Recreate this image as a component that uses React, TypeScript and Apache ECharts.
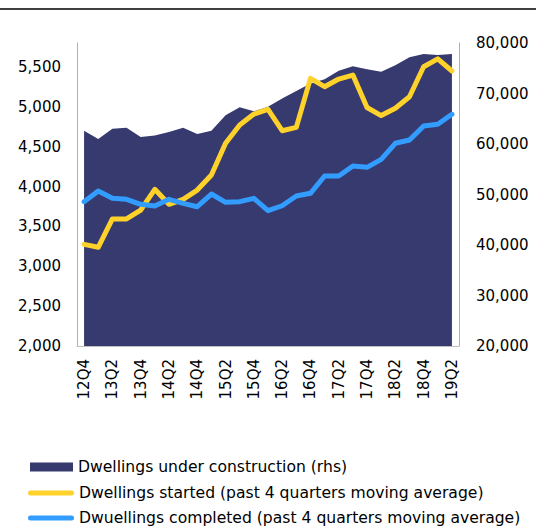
import React, { useEffect, useRef } from "react";
import * as echarts from "echarts";

const quarters = [
  "12Q4",
  "13Q1", "13Q2", "13Q3", "13Q4",
  "14Q1", "14Q2", "14Q3", "14Q4",
  "15Q1", "15Q2", "15Q3", "15Q4",
  "16Q1", "16Q2", "16Q3", "16Q4",
  "17Q1", "17Q2", "17Q3", "17Q4",
  "18Q1", "18Q2", "18Q3", "18Q4",
  "19Q1", "19Q2",
];

const underConstruction = [
  62600, 61000, 63000, 63200, 61400, 61700, 62400, 63200, 62000,
  62600, 65700, 67300, 66500, 67400, 69000, 70500, 72000, 72800,
  74500, 75400, 74800, 74300, 75600, 77200, 77800, 77600, 77800,
];

const started = [
  3275, 3238, 3593, 3593, 3705, 3965, 3777, 3840, 3956,
  4144, 4542, 4771, 4909, 4968, 4700, 4742, 5357, 5252,
  5348, 5398, 4991, 4890, 4981, 5126, 5502, 5601, 5449,
];

const completed = [
  3810, 3944, 3852, 3840, 3777, 3756, 3840, 3789, 3747,
  3906, 3802, 3810, 3852, 3697, 3759, 3881, 3915, 4132,
  4132, 4257, 4241, 4341, 4542, 4583, 4759, 4780, 4906,
];

const seriesNames = [
  "Dwellings under construction (rhs)",
  "Dwellings started (past 4 quarters moving average)",
  "Dwuellings completed (past 4 quarters moving average)",
];

const NAVY = "#363a6e";
const YELLOW = "#ffd22b";
const BLUE = "#339dff";
const FONT = "DejaVu Sans";

const fmt = (v: number) => v.toLocaleString("en-US");

const pillIcon =
  "path://M2.5,0 L43.5,0 A2.5,2.5 0 0 1 43.5,5 L2.5,5 A2.5,2.5 0 0 1 2.5,0 Z";

const legendText = { fontFamily: FONT, fontSize: 15.6, color: "#000", lineHeight: 16 };

export default function App() {
  const ref = useRef<HTMLDivElement>(null);

  useEffect(() => {
    document.body.style.margin = "0";
    if (!ref.current) return;
    const chart = echarts.init(ref.current, undefined, { renderer: "svg" });
    chart.setOption({
      animation: false,
      backgroundColor: "#ffffff",
      textStyle: { fontFamily: FONT },
      graphic: [
        {
          type: "line",
          shape: { x1: 0, y1: 9, x2: 536, y2: 9 },
          style: { stroke: "#000000", lineWidth: 1.5 },
        },
      ],
      grid: { left: 77, right: 77, top: 43, bottom: 180 },
      legend: [
        {
          left: 30,
          top: 459,
          itemWidth: 43,
          itemHeight: 9,
          padding: 0,
          textStyle: legendText,
          data: [{ name: seriesNames[0], icon: "rect", itemStyle: { color: NAVY } }],
        },
        {
          left: 28,
          top: 485,
          itemWidth: 46,
          itemHeight: 5,
          padding: 0,
          textStyle: legendText,
          data: [{ name: seriesNames[1], icon: pillIcon, itemStyle: { color: YELLOW } }],
        },
        {
          left: 28,
          top: 510,
          itemWidth: 46,
          itemHeight: 5,
          padding: 0,
          textStyle: legendText,
          data: [{ name: seriesNames[2], icon: pillIcon, itemStyle: { color: BLUE } }],
        },
      ],
      xAxis: {
        type: "category",
        data: quarters,
        boundaryGap: true,
        axisLine: { show: true, lineStyle: { color: "#bfbfbf", width: 1 } },
        axisTick: { show: false },
        axisLabel: {
          interval: 1,
          rotate: 90,
          margin: 13,
          fontFamily: FONT,
          fontSize: 15,
          color: "#000",
        },
      },
      yAxis: [
        {
          type: "value",
          min: 2000,
          max: 5800,
          interval: 500,
          axisLine: { show: true, lineStyle: { color: "#b0b0b0", width: 1 } },
          axisTick: { show: false },
          splitLine: { show: false },
          axisLabel: {
            margin: 16,
            fontFamily: FONT,
            fontSize: 15,
            color: "#000",
            formatter: (v: number) => (v % 500 === 0 ? fmt(v) : ""),
          },
        },
        {
          type: "value",
          min: 20000,
          max: 80000,
          interval: 10000,
          position: "right",
          axisLine: { show: true, lineStyle: { color: "#b0b0b0", width: 1 } },
          axisTick: { show: false },
          splitLine: { show: false },
          axisLabel: {
            margin: 17,
            fontFamily: FONT,
            fontSize: 15,
            color: "#000",
            formatter: (v: number) => fmt(v),
          },
        },
      ],
      series: [
        {
          name: seriesNames[0],
          type: "line",
          yAxisIndex: 1,
          data: underConstruction,
          symbol: "none",
          showSymbol: false,
          lineStyle: { width: 0, color: NAVY },
          itemStyle: { color: NAVY },
          areaStyle: { color: NAVY, opacity: 1 },
          z: 1,
        },
        {
          name: seriesNames[1],
          type: "line",
          yAxisIndex: 0,
          data: started,
          symbol: "none",
          showSymbol: false,
          lineStyle: { width: 5, color: YELLOW, cap: "round", join: "round" },
          itemStyle: { color: YELLOW },
          z: 3,
        },
        {
          name: seriesNames[2],
          type: "line",
          yAxisIndex: 0,
          data: completed,
          symbol: "none",
          showSymbol: false,
          lineStyle: { width: 5, color: BLUE, cap: "round", join: "round" },
          itemStyle: { color: BLUE },
          z: 4,
        },
      ],
    });
    return () => chart.dispose();
  }, []);

  return <div ref={ref} style={{ width: 536, height: 526 }} />;
}
